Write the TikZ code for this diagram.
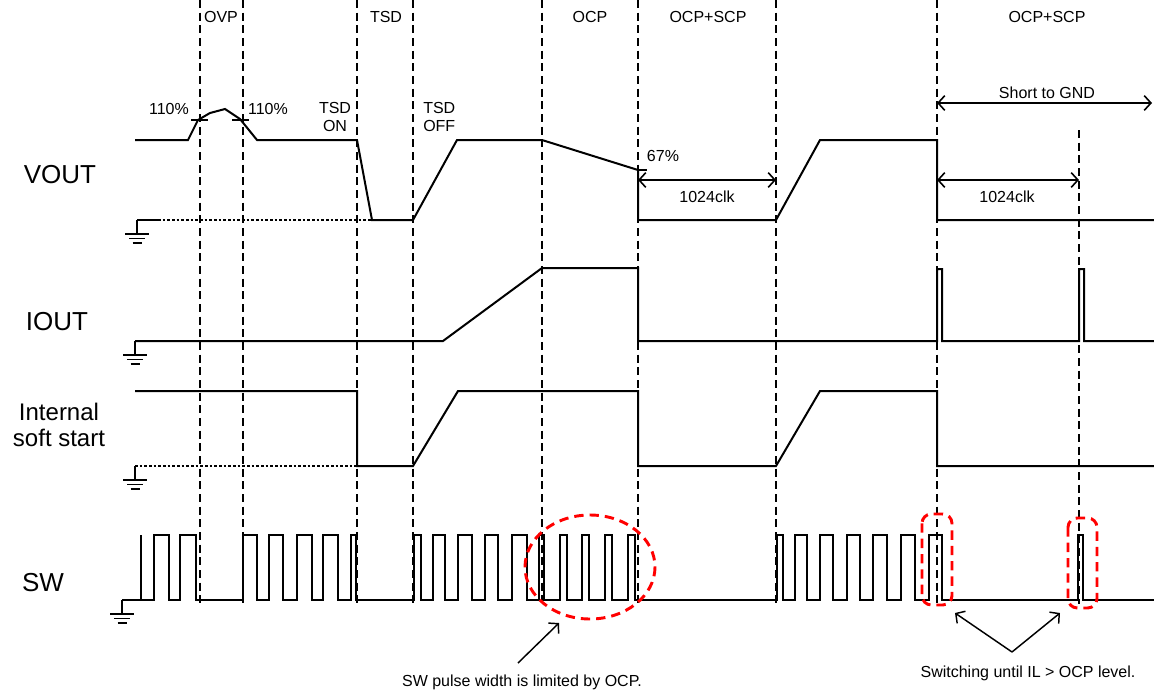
\documentclass[tikz,border=0pt]{standalone}
\usepackage{fontspec}
\setmainfont{Liberation Sans}
\usetikzlibrary{arrows.meta}
\begin{document}
\begin{tikzpicture}[x=0.75pt,y=-0.75pt,
  sig/.style={line width=1.5pt, line join=miter},
  vdash/.style={line width=1pt, dash pattern=on 6pt off 3.5pt},
  dotline/.style={line width=1pt, dash pattern=on 2pt off 1.5pt},
  reddash/.style={red, line width=2.2pt, dash pattern=on 7pt off 4.5pt},
  lbl/.style={font=\fontsize{12}{14}\selectfont, inner sep=0pt},
  big/.style={font=\fontsize{19.5}{21}\selectfont, inner sep=0pt, align=center},
  dimarrow/.style={line width=1.2pt, {Straight Barb[length=5pt,width=11pt]}-{Straight Barb[length=5pt,width=11pt]}},
  callout/.style={line width=1.1pt, -{Straight Barb[length=5pt,width=11pt]}},
  ground/.pic={\draw[line width=1.2pt] (0,0)--(0,14) (-12,14)--(12,14) (-8,18.5)--(8,18.5) (-4.5,23)--(4.5,23);}
]
\useasboundingbox (0,0) rectangle (1154,693);

% vertical dashed markers
\foreach \x in {200,243,357,413,542,638,776,937}
  \draw[vdash] (\x,0) -- (\x,604);
\draw[vdash] (1079,130) -- (1079,604);

% region labels
\node[lbl] (ovp) at (221,17) {OVP};
\node[lbl] (tsd) at (386,17) {TSD};
\node[lbl] (ocp) at (590,17) {OCP};
\node[lbl] (ocpscpa) at (708,17) {OCP+SCP};
\node[lbl] (ocpscpb) at (1047,17) {OCP+SCP};

% signal names
\node[big] (vout) at (60,175) {VOUT};
\node[big] (iout) at (57,322) {IOUT};
\node[big, font=\fontsize{18}{19}\selectfont] (iss) at (59,425) {Internal\\soft start};
\node[big] (sw) at (43,583) {SW};

% ===== VOUT =====
\draw[sig] (135,140) -- (188,140) -- (198,120) -- (210,113) -- (225,109) -- (240,119) -- (257,140)
  -- (357,140) -- (372,220) -- (413,220) -- (457,140) -- (542,140) -- (638,170) -- (638,220)
  -- (776,220) -- (820,140) -- (937,140) -- (937,220) -- (1154,220);
\draw[line width=1.2pt] (191,120) -- (208,120) (232,120) -- (249,120);
\draw[line width=1.2pt] (638,170) -- (647,170);
\draw[line width=1.2pt] (158,220) -- (137,220);
\pic at (137,220) {ground};
\draw[dotline] (158,220) -- (372,220);
\node[lbl] (p110a) at (169,109) {110\%};
\node[lbl] (p110b) at (268,109) {110\%};
\node[lbl, align=center] (tsdon) at (335,117) {TSD\\ON};
\node[lbl, align=left, anchor=west] (tsdoff) at (423,117) {TSD\\OFF};
\node[lbl] (p67) at (663,156) {67\%};
\coordinate (d1a) at (638,180);
\coordinate (d1b) at (776,180);
\draw[dimarrow] (d1a) -- (d1b);
\node[lbl] (clk1) at (707,197) {1024clk};
\coordinate (d2a) at (937,180);
\coordinate (d2b) at (1079,180);
\draw[dimarrow] (d2a) -- (d2b);
\node[lbl] (clk2) at (1007,197) {1024clk};
\coordinate (s1) at (937,103);
\coordinate (s2) at (1152,103);
\draw[dimarrow] (s1) -- (s2);
\node[lbl] (short) at (1047,93) {Short to GND};

% ===== IOUT =====
\draw[sig] (135,341) -- (443,341) -- (542,268) -- (638,268) -- (638,341) -- (937,341)
  -- (937,269) -- (942,269) -- (942,341) -- (1079,341) -- (1079,269) -- (1084,269) -- (1084,341) -- (1154,341);
\pic at (135,341) {ground};

% ===== Internal soft start =====
\draw[sig] (135,391) -- (357,391) -- (357,466) -- (413,466) -- (458,391) -- (638,391) -- (638,466)
  -- (776,466) -- (820,391) -- (937,391) -- (937,466) -- (1154,466);
\draw[dotline] (135,466) -- (357,466);
\pic at (135,466) {ground};

% ===== SW =====
\draw[sig] (122,600) -- (141,600) -- (141,535) -- (141,600)
  foreach \a/\b in {154/169,180/196,243/257,269/283,297/312,323/338,351/356,414/421,433/445,458/472,485/498,512/527,539/544,560/567,582/589,605/612,628/635,777/783,795/807,820/833,847/860,873/887,901/915,929/942,1078/1083}
  { -- (\a,600) -- (\a,535) -- (\b,535) -- (\b,600) } -- (1154,600);
\pic at (122,600) {ground};

% red highlights
\draw[reddash] (590,567) ellipse [x radius=65, y radius=52];
\draw[reddash, rounded corners=7pt] (922,514) rectangle (952,605);
\draw[reddash, rounded corners=7pt] (1068,518) rectangle (1097,608);

% annotations
\node[lbl] (note1) at (522,682) {SW pulse width is limited by OCP.};
\coordinate (n1tail) at (518,663);
\coordinate (n1head) at (559,623);
\draw[callout] (n1tail) -- (n1head);
\node[lbl] (note2) at (1028,673) {Switching until IL > OCP level.};
\coordinate (n2tail) at (1012,652);
\coordinate (n2a) at (955,613);
\coordinate (n2b) at (1060,613);
\draw[callout] (n2tail) -- (n2a);
\draw[callout] (n2tail) -- (n2b);
\end{tikzpicture}
\end{document}
